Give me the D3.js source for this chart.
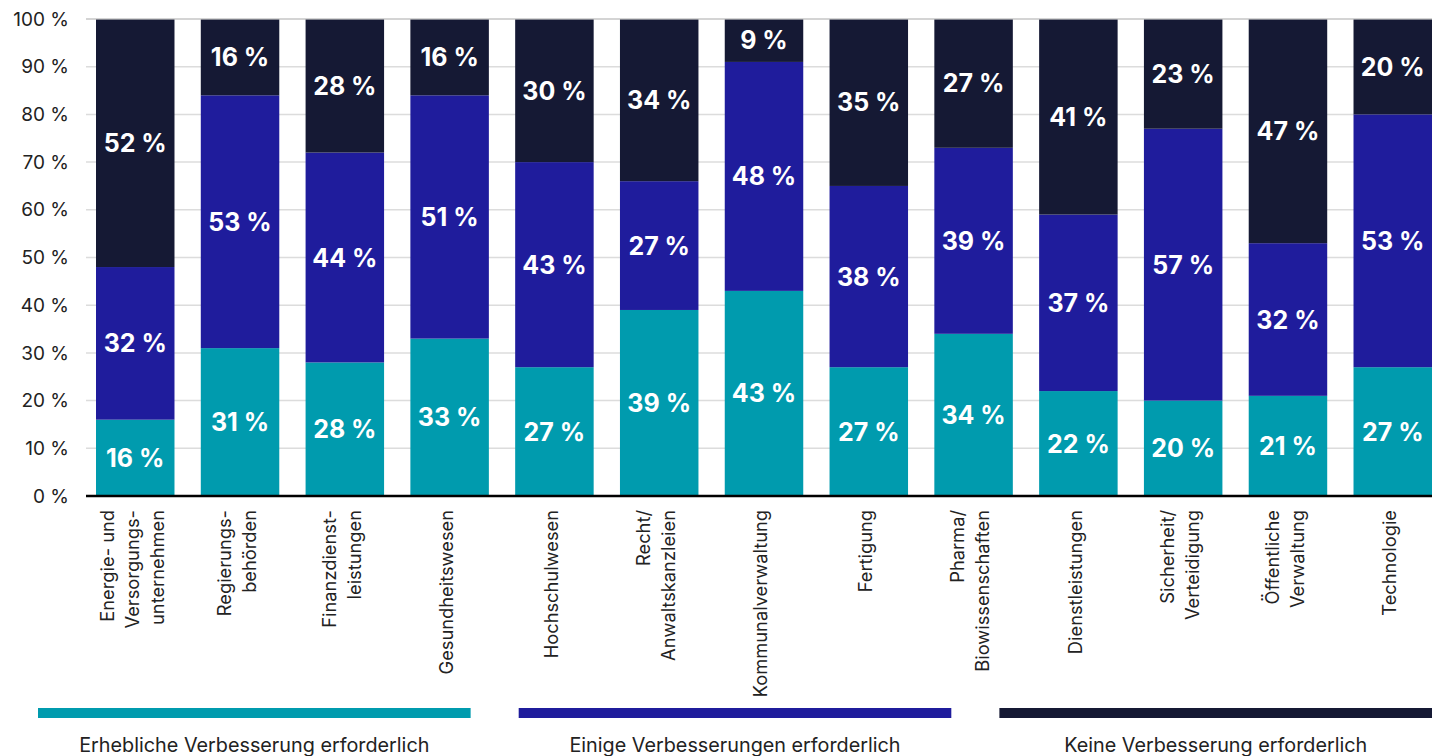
<!DOCTYPE html>
<html lang="de">
<head>
    <meta charset="UTF-8">
    <title>Verbesserungsbedarf nach Branche</title>
    <script src="https://cdn.jsdelivr.net/npm/d3@7"></script>
    <style>
        body { margin: 0; background: #fff; }
        svg { display: block; font-family: Inter, "Noto Sans", sans-serif; }
    </style>
</head>
<body>
<script>
    // Daten
    var branchen = [
        "Energie- und\nVersorgungs-\nunternehmen", "Regierungs-\nbehörden", "Finanzdienst-\nleistungen",
        "Gesundheitswesen", "Hochschulwesen", "Recht/\nAnwaltskanzleien", "Kommunalverwaltung",
        "Fertigung", "Pharma/\nBiowissenschaften", "Dienstleistungen", "Sicherheit/\nVerteidigung",
        "Öffentliche\nVerwaltung", "Technologie"
    ];
    var erheblich = [16, 31, 28, 33, 27, 39, 43, 27, 34, 22, 20, 21, 27];
    var einige    = [32, 53, 44, 51, 43, 27, 48, 38, 39, 37, 57, 32, 53];
    var keine     = [52, 16, 28, 16, 30, 34,  9, 35, 27, 41, 23, 47, 20];
    var serien = ["Erhebliche Verbesserung erforderlich", "Einige Verbesserungen erforderlich", "Keine Verbesserung erforderlich"];
    var farben = ["#009bae", "#1f1c9c", "#151934"];
    var yTicks = [0, 10, 20, 30, 40, 50, 60, 70, 80, 90, 100];

    var width = 1432, height = 756;
    var svg = d3.select("body").append("svg")
        .attr("width", width)
        .attr("height", height);

    var x = d3.scaleBand()
        .domain(d3.range(branchen.length))
        .range([96, 1432])
        .paddingInner(0.251)
        .paddingOuter(0);

    var y = d3.scaleLinear()
        .domain([0, 100])
        .range([496, 19]);

    // Gitterlinien
    svg.append("g")
        .selectAll("line")
        .data(yTicks)
        .enter()
        .append("line")
        .attr("x1", 86).attr("x2", width)
        .attr("y1", d => y(d)).attr("y2", d => y(d))
        .attr("stroke", "#dcdcdc")
        .attr("stroke-width", 1.5);

    // y-Achse Beschriftung
    svg.append("g")
        .selectAll("text")
        .data(yTicks)
        .enter()
        .append("text")
        .attr("x", 69)
        .attr("y", d => y(d))
        .attr("dy", "0.35em")
        .attr("text-anchor", "end")
        .attr("font-size", "19px")
        .attr("fill", "#222")
        .text(d => d + " %");

    // gestapelte Daten
    var rows = branchen.map((b, i) => ({i: i, s0: erheblich[i], s1: einige[i], s2: keine[i]}));
    var stack = d3.stack().keys(["s0", "s1", "s2"])(rows);

    var layers = svg.append("g")
        .selectAll("g")
        .data(stack)
        .enter()
        .append("g")
        .attr("fill", (d, k) => farben[k]);

    layers.selectAll("rect")
        .data(d => d)
        .enter()
        .append("rect")
        .attr("x", d => x(d.data.i))
        .attr("width", x.bandwidth())
        .attr("y", d => y(d[1]))
        .attr("height", d => y(d[0]) - y(d[1]));

    layers.selectAll("text")
        .data((d, k) => d.map(v => ({v: v, key: stack[k].key})))
        .enter()
        .append("text")
        .attr("x", d => x(d.v.data.i) + x.bandwidth() / 2)
        .attr("y", d => (y(d.v[0]) + y(d.v[1])) / 2)
        .attr("dy", "0.36em")
        .attr("text-anchor", "middle")
        .attr("font-size", "25px")
        .attr("font-weight", 700)
        .attr("fill", "#fff")
        .text(d => d.v.data[d.key] + " %");

    // obere Linie über den Balken
    svg.append("line")
        .attr("x1", 86).attr("x2", width)
        .attr("y1", y(100)).attr("y2", y(100))
        .attr("stroke", "rgba(200,200,200,0.6)")
        .attr("stroke-width", 2);

    // Grundlinie
    svg.append("line")
        .attr("x1", 86).attr("x2", width)
        .attr("y1", y(0)).attr("y2", y(0))
        .attr("stroke", "#000")
        .attr("stroke-width", 2.5);

    // Kategorien (gedreht)
    var lh = 25;
    var cats = svg.append("g")
        .selectAll("text")
        .data(branchen)
        .enter()
        .append("text")
        .attr("transform", (d, i) => `translate(${x(i) + x.bandwidth() / 2 - 3},510) rotate(-90)`)
        .attr("text-anchor", "end")
        .attr("font-size", "18.3px")
        .attr("fill", "#222");

    cats.each(function(d) {
        var lines = d.split("\n");
        var t = d3.select(this);
        lines.forEach((l, j) => {
            t.append("tspan")
                .attr("x", 0)
                .attr("y", (j - (lines.length - 1) / 2) * lh)
                .attr("dy", "0.35em")
                .text(l);
        });
    });

    // Legende
    var lx = d3.scaleBand()
        .domain(d3.range(serien.length))
        .range([38, 1432])
        .paddingInner(0.1)
        .paddingOuter(0);

    var leg = svg.append("g")
        .selectAll("g")
        .data(serien)
        .enter()
        .append("g");

    leg.append("rect")
        .attr("x", (d, i) => lx(i))
        .attr("y", 708)
        .attr("width", lx.bandwidth())
        .attr("height", 10)
        .attr("fill", (d, i) => farben[i]);

    leg.append("text")
        .attr("x", (d, i) => lx(i) + lx.bandwidth() / 2)
        .attr("y", 752)
        .attr("text-anchor", "middle")
        .attr("font-size", "19.8px")
        .attr("fill", "#222")
        .text(d => d);
</script>
</body>
</html>
